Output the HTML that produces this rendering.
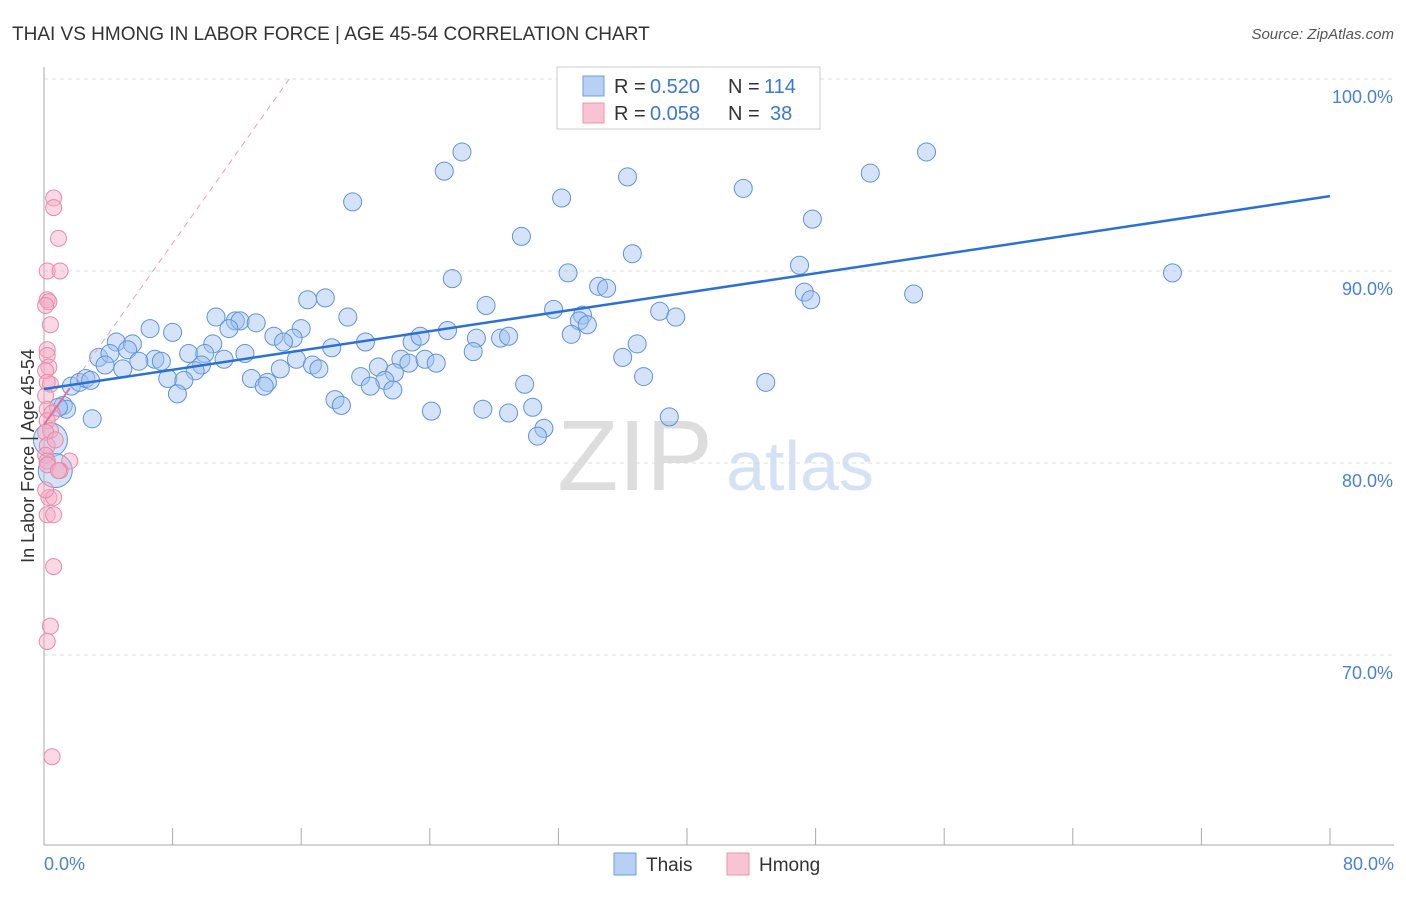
<!DOCTYPE html>
<html><head><meta charset="utf-8"><style>
body{margin:0;background:#fff;font-family:"Liberation Sans",sans-serif}
svg text{font-family:"Liberation Sans",sans-serif}
</style></head><body>
<svg id="chart" width="1406" height="892" viewBox="0 0 1406 892" xmlns="http://www.w3.org/2000/svg">
<text x="12" y="40" font-size="19" fill="#333">THAI VS HMONG IN LABOR FORCE | AGE 45-54 CORRELATION CHART</text>
<text x="1394" y="39" font-size="15" fill="#555" font-style="italic" text-anchor="end">Source: ZipAtlas.com</text>
<text x="635" y="490" font-size="100" fill="#ddd" font-family="Liberation Serif,serif" text-anchor="middle">ZIP</text>
<text x="800" y="490" font-size="70" fill="#d5e2f5" text-anchor="middle">atlas</text>
<g id="grid"></g><g id="axes"></g><g id="pts"></g><g id="trend"></g>
<text x="34" y="456" font-size="18" fill="#333" text-anchor="middle" transform="rotate(-90 34 456)">In Labor Force | Age 45-54</text>
<text x="44" y="870" font-size="18" fill="#4a80d8">0.0%</text>
<text x="1394" y="870" font-size="18" fill="#4a80d8" text-anchor="end">80.0%</text>
<g>
<rect x="557" y="67" width="263" height="62" fill="#fff" stroke="#ccc"/>
<rect x="583" y="76" width="21" height="20" fill="#b8d0f4" stroke="#6d9de0"/>
<text x="614" y="93" font-size="20" fill="#333">R =</text>
<text x="650" y="93" font-size="20" fill="#3a78d8">0.520</text>
<text x="728" y="93" font-size="20" fill="#333">N =</text>
<text x="764" y="93" font-size="20" fill="#3a78d8">114</text>
<rect x="583" y="103" width="21" height="20" fill="#f8c4d4" stroke="#ea95b0"/>
<text x="614" y="120" font-size="20" fill="#333">R =</text>
<text x="650" y="120" font-size="20" fill="#3a78d8">0.058</text>
<text x="728" y="120" font-size="20" fill="#333">N =</text>
<text x="770" y="120" font-size="20" fill="#3a78d8">38</text>
</g>
<g><rect x="614" y="853" width="22" height="22" fill="#b8d0f4" stroke="#6d9de0"/><text x="646" y="871" font-size="19" fill="#333">Thais</text></g>
<g><rect x="727" y="853" width="22" height="22" fill="#f8c4d4" stroke="#ea95b0"/><text x="759" y="871" font-size="19" fill="#333">Hmong</text></g>
</svg>
<script>
const yTicks=[100,90,80,70];
const yTickLabels=["100.0%","90.0%","80.0%","70.0%"];
const xTicks=[0,8,16,24,32,40,48,56,64,72,80];
const thaiX=[41.7,26.0,54.9,24.9,36.3,51.4,43.5,19.2,32.2,47.8,29.7,36.6,32.6,70.2,25.4,47.0,34.5,35.0,54.1,47.3,47.7,16.4,17.5,27.5,31.7,38.3,39.3,10.7,11.9,12.2,13.2,18.9,33.5,33.3,33.8,6.6,8.0,11.5,16.0,25.1,32.8,14.3,15.5,14.9,20.0,22.9,23.4,26.9,28.4,28.9,4.5,5.5,10.5,17.9,36.9,26.7,3.4,4.1,5.2,9.0,10.0,12.5,6.9,7.3,11.2,15.7,36.0,3.8,4.9,5.9,9.8,9.4,14.7,16.7,17.1,20.8,22.2,22.7,23.7,24.4,21.8,19.7,37.3,7.7,8.7,12.9,13.9,13.7,21.2,20.3,21.7,29.9,44.9,1.7,2.2,2.6,2.9,8.3,18.1,18.5,27.3,24.1,28.9,30.4,38.9,3.0,31.1,30.7,1.2,1.4,0.9,0.4,0.7];
const thaiY=[100,96.2,96.2,95.2,94.9,95.1,94.3,93.6,93.8,92.7,91.8,90.9,89.9,89.9,89.6,90.3,89.2,89.1,88.8,88.9,88.5,88.5,88.6,88.2,88.0,87.9,87.6,87.6,87.4,87.4,87.3,87.6,87.7,87.4,87.2,87.0,86.8,87.0,87.0,86.9,86.7,86.6,86.5,86.3,86.3,86.3,86.6,86.5,86.5,86.6,86.3,86.2,86.2,86.0,86.2,85.8,85.5,85.7,85.9,85.7,85.7,85.7,85.4,85.3,85.4,85.4,85.5,85.1,84.9,85.3,85.1,84.8,84.9,85.1,84.9,85.0,85.4,85.2,85.4,85.2,84.7,84.5,84.5,84.4,84.3,84.4,84.2,84.0,84.3,84.0,83.8,84.1,84.2,84.0,84.2,84.4,84.3,83.6,83.3,83.0,82.8,82.7,82.6,82.9,82.4,82.3,81.8,81.4,83.0,82.8,82.9,81.2,79.6];
const hmongX=[0.6,0.6,0.9,0.2,1.0,0.2,0.3,0.1,0.4,0.2,0.2,0.3,0.1,0.4,0.2,0.1,0.2,0.5,0.2,0.4,0.1,0.2,0.7,0.1,1.6,0.2,0.2,1.0,0.9,0.3,0.6,0.1,0.2,0.6,0.6,0.4,0.2,0.5];
const hmongY=[93.8,93.3,91.7,90.0,90.0,88.5,88.4,88.2,87.2,85.9,85.6,85.0,84.8,84.1,84.2,83.5,82.8,82.6,82.2,81.7,81.6,80.9,81.2,80.4,80.1,80.1,79.9,79.6,79.6,78.2,78.2,78.6,77.3,77.3,74.6,71.5,70.7,64.7];
const thaiTrend=[83.85,0.1256];
const hmongTrend=[82.0,1.18];
const X0=44,X1=1330,Y0=845,Ytop=79,yMin=60.1,yMax=100;
const sx=v=>X0+(v/80)*(X1-X0);
const sy=v=>Y0-(v-yMin)/(yMax-yMin)*(Y0-Ytop);
const NS="http://www.w3.org/2000/svg";
function mk(tag,attrs,parent){const e=document.createElementNS(NS,tag);for(const k in attrs)e.setAttribute(k,attrs[k]);parent.appendChild(e);return e;}
const grid=document.getElementById('grid'),axes=document.getElementById('axes'),pts=document.getElementById('pts'),tr=document.getElementById('trend');
yTicks.forEach((t,i)=>{
 const l=mk('line',{x1:X0,x2:1394,y1:sy(t),y2:sy(t),stroke:'#ddd','stroke-dasharray':'4,4'},grid);
 
 
 const tx=mk('text',{x:1393,y:sy(t)+24,'font-size':18,fill:'#4a80d8','text-anchor':'end'},grid);
 tx.textContent=yTickLabels[i];
 
 
});
const ya=mk('line',{x1:X0,x2:X0,y1:67,y2:Y0,stroke:'#aaa'},axes);


const xa=mk('line',{x1:X0,x2:1394,y1:Y0,y2:Y0,stroke:'#aaa'},axes);


xTicks.forEach(t=>{
 const l=mk('line',{x1:sx(t),x2:sx(t),y1:Y0,y2:Y0-17,stroke:'#aaa'},axes);
 
 
});
thaiX.forEach((x,i)=>{
 const big=i>=thaiX.length-2;
 const c=mk('circle',{cx:sx(x),cy:sy(thaiY[i]),r:big?17:9,fill:'rgba(160,192,240,0.45)',stroke:'#5f93dc','stroke-width':1},pts);
 
 
});
hmongX.forEach((x,i)=>{
 const c=mk('circle',{cx:sx(x),cy:sy(hmongY[i]),r:8,fill:'rgba(245,170,195,0.45)',stroke:'#e88aa8','stroke-width':1},pts);
 
 
});
const xEndH=(100-hmongTrend[0])/hmongTrend[1];
const hd=mk('line',{x1:sx(0),y1:sy(hmongTrend[0]),x2:sx(xEndH),y2:sy(100),stroke:'#e8a0b8','stroke-dasharray':'6,5','stroke-width':1},tr);


const hs=mk('line',{x1:sx(0),y1:sy(hmongTrend[0]),x2:sx(1.6),y2:sy(hmongTrend[0]+hmongTrend[1]*1.6),stroke:'#e07098','stroke-width':2},tr);


const tl=mk('line',{x1:sx(0),y1:sy(thaiTrend[0]),x2:sx(80),y2:sy(thaiTrend[0]+thaiTrend[1]*80),stroke:'#2a70d8','stroke-width':2.5},tr);


</script>
</body></html>
